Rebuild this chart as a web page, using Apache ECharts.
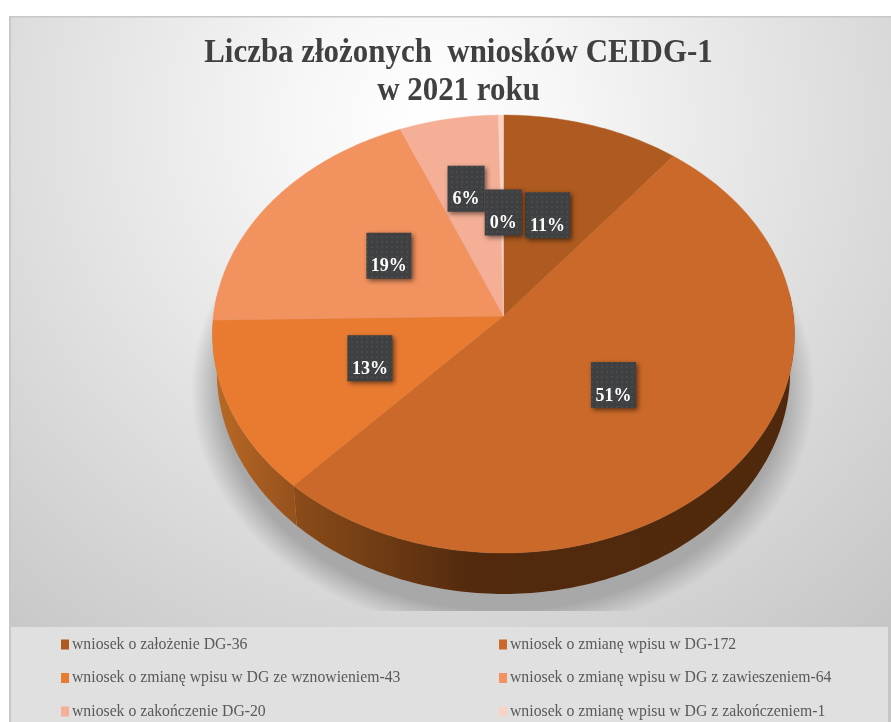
<!DOCTYPE html>
<html lang="pl">
<head>
<meta charset="utf-8">
<title>Liczba złożonych wniosków CEIDG-1</title>
<style>html,body{margin:0;padding:0;background:#fff}#c{width:891px;height:722px}</style>
<script src="https://cdn.jsdelivr.net/npm/echarts@6/dist/echarts.min.js"></script>
</head>
<body>
<div id="c"></div>
<script>
const titleText = 'Liczba złożonych  wniosków CEIDG-1\nw 2021 roku';
const categories = [
  'wniosek o założenie DG',
  'wniosek o zmianę wpisu w DG',
  'wniosek o zmianę wpisu w DG ze wznowieniem',
  'wniosek o zmianę wpisu w DG z zawieszeniem',
  'wniosek o zakończenie DG',
  'wniosek o zmianę wpisu w DG z zakończeniem'
];
const values = [36, 172, 43, 64, 20, 1];
const sliceColors = ['#AE5A20', '#CA6929', '#E97B31', '#F2925F', '#F5AF97', '#FAD3C6'];

const FONT = '"Liberation Serif","Times New Roman",serif';
const W = 891, H = 722;
const geo = {cx: 503.5, cy: 316, rx: 290, ry: 217.5, k: 0.0822, depth: 37.6, shrink: 0.985};
const total = values.reduce((a, b) => a + b, 0);
const names = categories.map((c, i) => c + '-' + values[i]);
const starts = [];
values.reduce((acc, v, i) => { starts[i] = acc; return acc + v; }, 0);
const toDeg = v => v / total * 360;

function project(deg, r) {
  const t = deg * Math.PI / 180, X = r * Math.sin(t), Y = -r * Math.cos(t), d = 1 - geo.k * Y;
  return {x: geo.cx + geo.rx * X / d, y: geo.cy + geo.ry * Y / d, d: d};
}
function rim(a0, a1) {
  const pts = [], n = Math.max(2, Math.ceil(Math.abs(a1 - a0)));
  for (let i = 0; i <= n; i++) pts.push(a0 + (a1 - a0) * i / n);
  return pts;
}
function topFace(i) {
  const a0 = toDeg(starts[i]), a1 = toDeg(starts[i] + values[i]);
  return [[geo.cx, geo.cy]].concat(rim(a0, a1).map(a => { const p = project(a, 1); return [p.x, p.y]; }));
}
function sideFace(i) {
  const a0 = Math.max(toDeg(starts[i]), 84), a1 = Math.min(toDeg(starts[i] + values[i]), 276);
  if (a1 <= a0) return null;
  const arc = rim(a0, a1);
  const up = arc.map(a => { const p = project(a, 1); return [p.x, p.y]; });
  const low = arc.slice().reverse().map(a => {
    const p = project(a, 1);
    return [geo.cx + (p.x - geo.cx) * geo.shrink, p.y + geo.depth / p.d];
  });
  return up.concat(low);
}
const sideFills = {
  1: new echarts.graphic.LinearGradient(293, 0, 794, 0, [
    {offset: 0, color: '#8C4C19'}, {offset: 0.18, color: '#6E3B13'},
    {offset: 0.36, color: '#52290D'}, {offset: 1, color: '#50290D'}], true),
  2: new echarts.graphic.LinearGradient(215, 0, 293, 0, [
    {offset: 0, color: '#B96926'}, {offset: 1, color: '#96521D'}], true)
};

function dotPattern() {
  const c = document.createElement('canvas');
  c.width = c.height = 5;
  const g = c.getContext('2d');
  g.fillStyle = '#3F4042'; g.fillRect(0, 0, 5, 5);
  g.fillStyle = '#484A4C'; g.fillRect(1, 1, 2, 2);
  return c;
}
const boxFill = {image: dotPattern(), repeat: 'repeat'};
const labelNudge = {0: [-2, 0], 1: [-3, -2], 2: [1, -1], 3: [4, 0], 4: [-9, -23], 5: [1, 3]};

const sliceSeries = categories.map((c, i) => ({
  type: 'custom', name: names[i], coordinateSystem: 'none', silent: true, clip: false, z: 3,
  itemStyle: {color: sliceColors[i]},
  data: [values[i]],
  renderItem: () => {
    const kids = [];
    const side = sideFace(i);
    if (side) kids.push({type: 'polygon', shape: {points: side},
      style: {fill: sideFills[i] || sliceColors[i]}});
    kids.push({type: 'polygon', z2: 5, shape: {points: topFace(i)},
      style: {fill: sliceColors[i], stroke: sliceColors[i], lineWidth: 0.4}});
    return {type: 'group', children: kids};
  }
}));

const SH = {cx: 503, cy: 390, r: 312, sy: 0.785, clipY: 611};
const shadowSeries = {
  type: 'custom', name: 'cien', coordinateSystem: 'none', silent: true, clip: false, z: 2,
  data: [total],
  renderItem: () => ({
    type: 'circle',
    x: SH.cx, y: SH.cy, scaleY: SH.sy,
    shape: {cx: 0, cy: 0, r: SH.r},
    clipPath: {type: 'rect', shape: {x: -SH.r, y: -SH.r, width: 2 * SH.r, height: SH.r + (SH.clipY - SH.cy) / SH.sy}},
    style: {fill: new echarts.graphic.RadialGradient(0, 0, SH.r, [
      {offset: 0, color: 'rgba(168,168,168,1)'}, {offset: 0.9, color: 'rgba(168,168,168,1)'},
      {offset: 0.95, color: 'rgba(168,168,168,0.5)'}, {offset: 1, color: 'rgba(168,168,168,0)'}], true)}
  })
};

const labelSeries = {
  type: 'custom', name: 'etykiety', coordinateSystem: 'none', silent: true, clip: false, z: 4,
  data: values,
  renderItem: (params) => {
    const i = params.dataIndex;
    const mid = toDeg(starts[i] + values[i] / 2), p = project(mid, 0.5);
    const n = labelNudge[i];
    const pct = Math.round(values[i] / total * 100) + '%';
    const w = pct.length > 2 ? 45 : 37, h = 46;
    const x = p.x + n[0], y = p.y + n[1] - 2;
    return {type: 'group', children: [
      {type: 'rect', shape: {x: x - w / 2, y: y - h / 2, width: w, height: h},
        style: {fill: boxFill, shadowBlur: 5, shadowOffsetX: 2, shadowOffsetY: 2, shadowColor: 'rgba(0,0,0,0.55)'}},
      {type: 'text', z2: 3, style: {x: x, y: y + h / 2 - 12, text: pct, fill: '#FFFFFF',
        font: 'bold 18px ' + FONT, textAlign: 'center', textVerticalAlign: 'middle'}}
    ]};
  }
};

const legendBase = {
  orient: 'vertical', icon: 'rect', itemWidth: 8, itemHeight: 10, itemGap: 16.5, padding: 0,
  selectedMode: false,
  textStyle: {fontFamily: FONT, fontSize: 15.75, color: '#595959', lineHeight: 17, padding: [0, 0, 0, -2]}
};

const chart = echarts.init(document.getElementById('c'), null, {renderer: 'canvas', width: W, height: H});
chart.setOption({
  animation: false,
  backgroundColor: '#FFFFFF',
  graphic: [
    {type: 'rect', z: 0, shape: {x: 9, y: 16, width: W - 9, height: H - 16},
      style: {fill: new echarts.graphic.RadialGradient(430, 120, 680, [
        {offset: 0, color: '#FFFFFF'}, {offset: 0.2, color: '#F6F6F6'},
        {offset: 0.6, color: '#DEDEDE'}, {offset: 1, color: '#C6C6C6'}], true)}},
    {type: 'rect', z: 0, shape: {x: 9, y: 16, width: W - 9, height: 1.5}, style: {fill: '#C8C8C8'}},
    {type: 'rect', z: 0, shape: {x: 9, y: 16, width: 2, height: H - 16}, style: {fill: '#C8C8C8'}},
    {type: 'rect', z: 0, shape: {x: 11, y: 627, width: 877, height: H - 627}, style: {fill: '#E0E0E0'}},
    {type: 'text', z: 5, x: 458.5, y: 34, scaleX: 0.937,
      style: {text: titleText, font: 'bold 33px ' + FONT, lineHeight: 38, fill: '#404040', textAlign: 'center'}}
  ],
  legend: [
    Object.assign({}, legendBase, {left: 61, top: 636, data: [names[0], names[2], names[4]]}),
    Object.assign({}, legendBase, {left: 499, top: 636, data: [names[1], names[3], names[5]]})
  ],
  series: [shadowSeries].concat(sliceSeries, [labelSeries])
});
</script>
</body>
</html>
